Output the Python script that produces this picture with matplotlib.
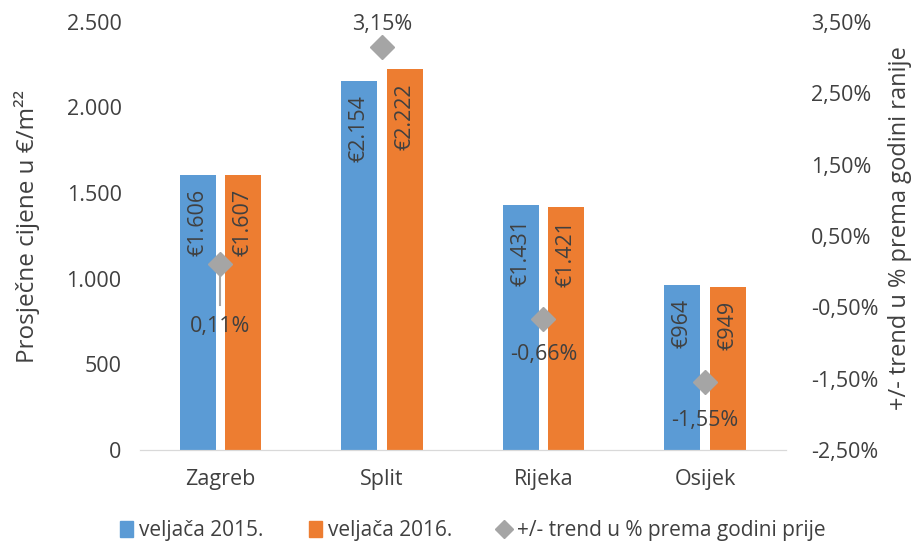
import numpy as np
import matplotlib.pyplot as plt
from matplotlib.lines import Line2D
from matplotlib.patches import Patch

plt.rcParams['font.family'] = ['Open Sans', 'DejaVu Sans']

gradovi = ['Zagreb', 'Split', 'Rijeka', 'Osijek']
v2015 = [1606, 2154, 1431, 964]
v2016 = [1607, 2222, 1421, 949]
trend = [0.11, 3.15, -0.66, -1.55]
lab2015 = ['€1.606', '€2.154', '€1.431', '€964']
lab2016 = ['€1.607', '€2.222', '€1.421', '€949']
labtrend = ['0,11%', '3,15%', '-0,66%', '-1,55%']

c1 = '#5B9BD5'
c2 = '#ED7D31'
c3 = '#A5A5A5'
txt = '#404040'

fig = plt.figure(figsize=(9.13, 5.44), dpi=100)
ax = fig.add_axes([0.153, 0.1728, 0.7076, 0.787])
ax2 = ax.twinx()

x = np.arange(len(gradovi))
w = 0.223
off = 0.142
ax.bar(x - off, v2015, w, color=c1)
ax.bar(x + off, v2016, w, color=c2)

for i in range(len(x)):
    ax.text(x[i] - off, v2015[i] - 80, lab2015[i], rotation=90, ha='center', va='top',
            fontsize=15.5, color=txt)
    ax.text(x[i] + off, v2016[i] - 80, lab2016[i], rotation=90, ha='center', va='top',
            fontsize=15.5, color=txt)

ax.set_xlim(-0.5, 3.5)
ax.set_ylim(0, 2500)
ax.set_yticks(range(0, 2501, 500))
ax.set_yticklabels(['0', '500', '1.000', '1.500', '2.000', '2.500'])
ax.set_xticks(x)
ax.set_xticklabels(gradovi)

ax2.plot(x, trend, linestyle='none', marker='D', markersize=12, color=c3)
ax2.set_ylim(-2.5, 3.5)
ax2.set_yticks(np.arange(-2.5, 3.6, 1.0))
ax2.set_yticklabels(['-2,50%', '-1,50%', '-0,50%', '0,50%', '1,50%', '2,50%', '3,50%'])

# naslovi osi
fig.text(27 / 913, 1 - 226 / 544, 'Prosječne cijene u €/m²²', rotation=90,
         ha='center', va='center', fontsize=17.5, color=txt)
fig.text(900 / 913, 1 - 228 / 544, '+/- trend u % prema godini ranije', rotation=90,
         ha='center', va='center', fontsize=17, color=txt)

# oznake za trend
ax2.plot([x[0], x[0]], [trend[0] - 0.17, trend[0] - 0.58], color=c3, lw=1.5)
ax2.text(x[0], trend[0] - 0.88, labtrend[0], ha='center', va='center', fontsize=15.5, color=txt)
ax2.text(x[1], trend[1] + 0.31, labtrend[1], ha='center', va='center', fontsize=15.5, color=txt)
ax2.text(x[2], trend[2] - 0.5, labtrend[2], ha='center', va='center', fontsize=15.5, color=txt)
ax2.text(x[3], trend[3] - 0.53, labtrend[3], ha='center', va='center', fontsize=15.5, color=txt)

for a in (ax, ax2):
    for s in ['top', 'left', 'right']:
        a.spines[s].set_visible(False)
    a.spines['bottom'].set_color('#D9D9D9')
    a.tick_params(length=0, labelsize=15.5, colors=txt)
ax.tick_params(axis='y', pad=13)
ax2.tick_params(axis='y', pad=18)
ax.tick_params(axis='x', pad=14)

handles = [Patch(color=c1, label='veljača 2015.'),
           Patch(color=c2, label='veljača 2016.'),
           Line2D([], [], linestyle='none', marker='D', markersize=9, color=c3,
                  label='+/- trend u % prema godini prije')]
fig.legend(handles=handles, loc='center', ncol=3, frameon=False, fontsize=15,
           bbox_to_anchor=(0.518, 0.024), handlelength=0.6, handleheight=0.8,
           handletextpad=0.3, columnspacing=2.2, labelcolor=txt)

fig.savefig('out.png', dpi=100)
